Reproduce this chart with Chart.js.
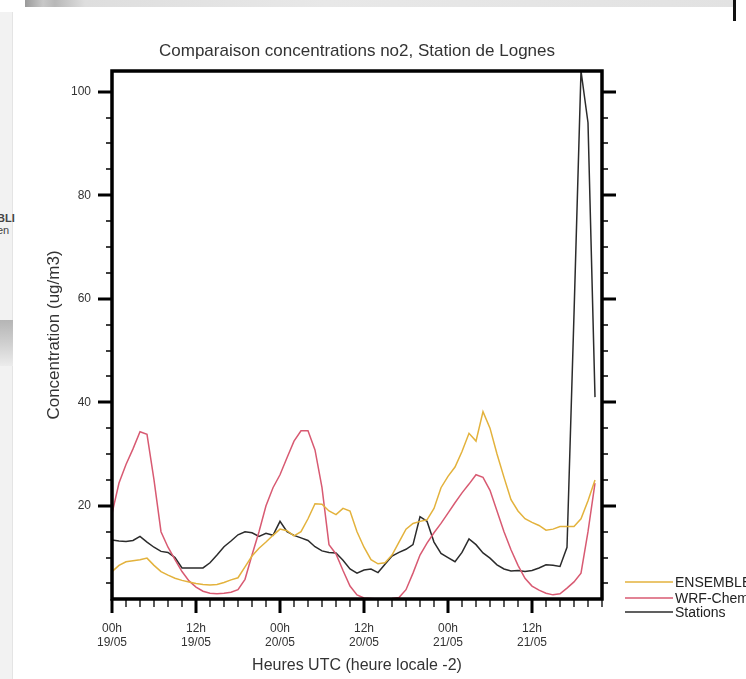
<!DOCTYPE html>
<html>
<head>
<meta charset="utf-8">
<script src="https://cdn.jsdelivr.net/npm/chart.js"></script>
<style>
  body { margin: 0; background: #fff; }
  #wrap { position: relative; width: 746px; height: 679px; overflow: hidden; }
  #wrap div { position: absolute; }
  canvas { position: absolute; left: 0; top: 0; }
</style>
</head>
<body>
<div id="wrap">
  <!-- bits of the surrounding screenshot -->
  <div style="left:25px;top:0;width:710px;height:7px;background:linear-gradient(to right,#9a9a9a 0,#c8c8c8 18px,#b8b8b8 30px,#dedede 60px,#e8e8e8 300px,#e2e2e2 100%);"></div>
  <div style="left:733px;top:0;width:3px;height:21px;background:#111;"></div>
  <div style="left:0;top:12px;width:12px;height:667px;background:#f2f2f2;border-right:1px solid #e4e4e4;"></div>
  <div style="left:0;top:320px;width:13px;height:46px;background:linear-gradient(to bottom,#b5b5b5,#cfcfcf 50%,#ececec);"></div>
  <div style="left:-3px;top:212px;font:bold 11px 'Liberation Sans';color:#444;line-height:12px;">BLI<br><span style="font-weight:normal">en</span></div>
  <canvas id="c" width="746" height="679"></canvas>
</div>
<script>
// heures depuis 00h 19/05
const hours = [0,1,2,3,4,5,6,7,8,9,10,11,12,13,14,15,16,17,18,19,
  20,21,22,23,24,25,26,27,28,29,30,31,32,33,34,35,36,37,38,39,
  40,41,42,43,44,45,46,47,48,49,50,51,52,53,54,55,56,57,58,59,
  60,61,62,63,64,65,66,67,68,69];

const ensemble = [7.3,8.5,9.2,9.4,9.6,9.9,8.5,7.3,6.6,6.0,
  5.6,5.3,5.0,4.8,4.7,4.8,5.2,5.7,6.1,8.2,
  10.3,11.8,13.0,14.3,15.5,15.2,14.2,15.0,17.5,20.4,
  20.3,19.0,18.3,19.5,19.0,15.0,12.0,9.6,8.8,9.0,
  10.5,13.0,15.5,16.6,17.0,17.3,19.5,23.5,25.7,27.5,
  30.5,34.0,32.5,38.2,35.0,30.0,25.5,21.2,19.0,17.5,
  16.8,16.2,15.3,15.5,16.0,16.0,16.0,17.5,21.0,25.0];

const wrfChem = [18.5,24.4,28.0,31.0,34.3,33.8,25.0,15.0,12.0,9.6,
  7.3,5.5,4.3,3.5,3.1,3.0,3.1,3.3,3.8,5.8,
  10.5,15.0,20.0,23.5,26.0,29.3,32.5,34.5,34.5,30.8,
  23.5,12.5,10.7,7.5,4.5,2.8,2.2,2.1,2.0,2.0,
  2.1,2.3,3.8,7.0,10.5,12.8,14.8,16.6,18.6,20.6,
  22.5,24.2,26.0,25.5,23.0,19.0,15.0,11.5,8.5,6.0,
  4.5,3.7,3.1,2.8,3.0,4.1,5.3,7.0,15.0,24.4];

const stations = [13.4,13.2,13.1,13.3,14.1,13.0,12.0,11.2,11.0,10.0,
  8.0,8.0,8.0,8.0,9.0,10.5,12.1,13.2,14.4,15.0,
  14.8,14.1,14.7,14.3,17.0,15.0,14.3,13.8,13.3,12.1,
  11.3,11.0,10.9,9.5,7.8,7.0,7.6,7.8,7.1,8.7,
  10.3,11.0,11.6,12.5,17.9,17.0,13.0,10.8,10.0,9.2,
  11.0,13.6,12.5,10.9,9.9,8.6,7.8,7.4,7.5,7.3,
  7.5,8.0,8.6,8.5,8.3,12.0,57.0,104.0,94.0,41.0];

const xTickValues = [0, 12, 24, 36, 48, 60];
const xTickLabels = [["00h", "19/05"], ["12h", "19/05"], ["00h", "20/05"],
  ["12h", "20/05"], ["00h", "21/05"], ["12h", "21/05"]];
const yTickValues = [20, 40, 60, 80, 100];
const yTickLabels = ["20", "40", "60", "80", "100"];

const FONT = "'Liberation Sans', Arial, sans-serif";

function pts(ys) {
  return ys.map((v, i) => ({ x: hours[i], y: v }));
}

// cadre, graduations, titre et legende dessines a la main
const cadre = {
  id: "cadre",
  afterDraw(chart) {
    const { ctx, chartArea: a, scales: { x, y } } = chart;
    ctx.save();
    ctx.strokeStyle = "#000";

    // graduations x (toutes les 2h, majeures toutes les 12h)
    for (let v = 0; v <= 70; v += 2) {
      const px = Math.round(x.getPixelForValue(v));
      const major = v % 12 === 0;
      ctx.lineWidth = major ? 3 : 1.3;
      ctx.beginPath();
      ctx.moveTo(px, a.bottom);
      ctx.lineTo(px, a.bottom + (major ? 14 : 8));
      ctx.stroke();
    }
    // graduations y des deux cotes
    for (let v = 5; v <= 100; v += 5) {
      const py = Math.round(y.getPixelForValue(v));
      const major = v % 20 === 0;
      const len = major ? 14 : 6;
      ctx.lineWidth = major ? 3 : 1.3;
      ctx.beginPath();
      ctx.moveTo(a.left - len, py);
      ctx.lineTo(a.left, py);
      ctx.moveTo(a.right, py);
      ctx.lineTo(a.right + len, py);
      ctx.stroke();
    }

    ctx.lineWidth = 3.5;
    ctx.strokeRect(a.left, a.top, a.right - a.left, a.bottom - a.top);

    // titre
    ctx.fillStyle = "#333";
    ctx.font = "17px " + FONT;
    ctx.textAlign = "center";
    ctx.textBaseline = "middle";
    ctx.fillText("Comparaison concentrations no2, Station de Lognes", (a.left + a.right) / 2, 51);

    // legende
    ctx.font = "14px " + FONT;
    ctx.textAlign = "left";
    const rows = [a.bottom - 17, a.bottom - 1, a.bottom + 13];
    chart.data.datasets.forEach((ds, i) => {
      ctx.strokeStyle = ds.borderColor;
      ctx.lineWidth = 1.5;
      ctx.beginPath();
      ctx.moveTo(a.right + 23, rows[i]);
      ctx.lineTo(a.right + 71, rows[i]);
      ctx.stroke();
      ctx.fillStyle = "#222";
      ctx.fillText(ds.label, a.right + 73, rows[i] + 1);
    });
    ctx.restore();
  }
};

new Chart(document.getElementById("c"), {
  type: "line",
  data: {
    datasets: [
      { label: "ENSEMBLE", data: pts(ensemble), borderColor: "#e3b23c" },
      { label: "WRF-Chem", data: pts(wrfChem), borderColor: "#d85a72" },
      { label: "Stations", data: pts(stations), borderColor: "#2b2b2b" }
    ]
  },
  options: {
    responsive: false,
    animation: false,
    devicePixelRatio: 1,
    layout: { padding: { top: 71, right: 144, bottom: 0, left: 0 } },
    elements: {
      point: { radius: 0 },
      line: { borderWidth: 1.5, tension: 0 }
    },
    plugins: {
      legend: { display: false },
      tooltip: { enabled: false }
    },
    scales: {
      x: {
        type: "linear",
        min: 0,
        max: 70,
        afterBuildTicks: (s) => { s.ticks = xTickValues.map((v) => ({ value: v })); },
        afterFit: (s) => { s.height = 80; },
        grid: { display: false, drawTicks: false },
        border: { display: false },
        ticks: {
          autoSkip: false,
          maxRotation: 0,
          padding: 22,
          color: "#333",
          font: { family: FONT, size: 12 },
          callback: (v) => xTickLabels[xTickValues.indexOf(v)]
        },
        title: {
          display: true,
          text: "Heures UTC (heure locale -2)",
          color: "#333",
          font: { family: FONT, size: 16 },
          padding: { top: 0, bottom: 4 }
        }
      },
      y: {
        min: 2,
        max: 104,
        afterBuildTicks: (s) => { s.ticks = yTickValues.map((v) => ({ value: v })); },
        afterFit: (s) => { s.width = 112; },
        grid: { display: false, drawTicks: false },
        border: { display: false },
        ticks: {
          padding: 21,
          color: "#333",
          font: { family: FONT, size: 12 },
          callback: (v) => yTickLabels[yTickValues.indexOf(v)]
        },
        title: {
          display: true,
          text: "Concentration (ug/m3)",
          color: "#333",
          font: { family: FONT, size: 17 },
          padding: { top: 44, bottom: 0 }
        }
      }
    }
  },
  plugins: [cadre]
});
</script>
</body>
</html>
